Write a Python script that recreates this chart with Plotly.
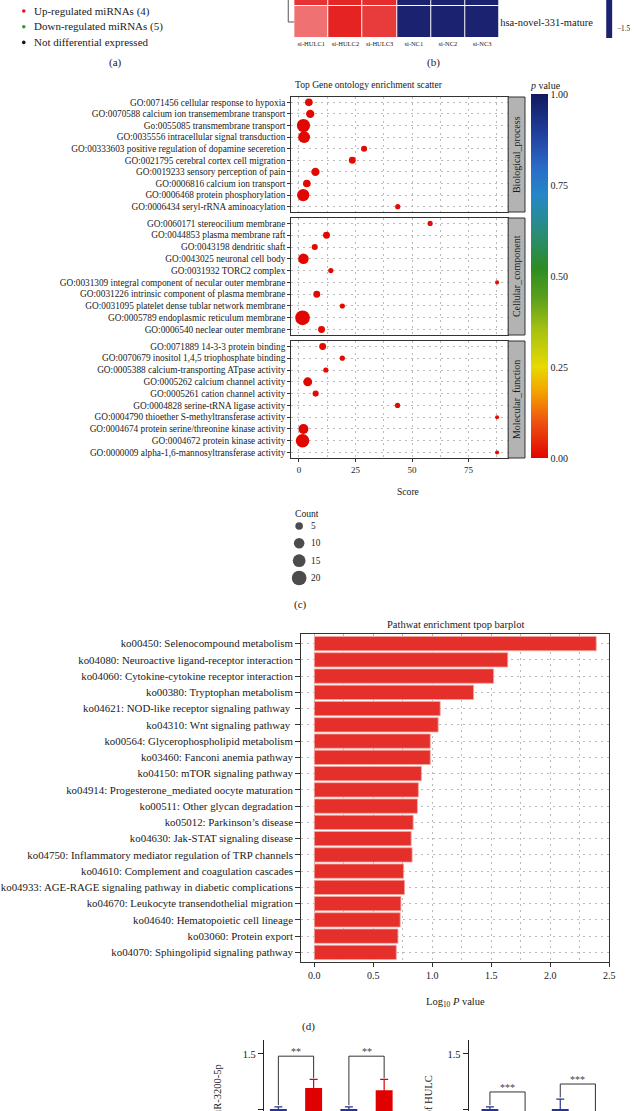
import numpy as np
import plotly.graph_objects as go

W, H = 635, 1111
FONT = "Liberation Serif"
TXT = "#1a1a1a"
LINE = "#333333"
GRID = "#a9a9a9"
DOT = "1.5px,4.5px"


def X(px):
    return px / W


def Y(py):
    return 1 - py / H


# ---------------- data ----------------
# (a) volcano legend
volcano_legend = ["Up-regulated miRNAs (4)", "Down-regulated miRNAs (5)", "Not differential expressed"]
volcano_colors = ["#E5161D", "#2E9B2E", "#141414"]

# (b) heatmap
heat_samples = ["si-HULC1", "si-HULC2", "si-HULC3", "si-NC1", "si-NC2", "si-NC3"]
heat_rows = ["hsa-novel-331-mature", "hsa-miR-3200-5p"]
heat_values = [[0.72, 1.45, 1.22, -1.5, -1.5, -1.5],
               [1.30, 1.42, 1.35, -1.5, -1.5, -1.5]]

# (c) GO enrichment scatter
bp_terms = ["GO:0071456 cellular response to hypoxia",
            "GO:0070588 calcium ion transemembrane transport",
            "Go:0055085 transmembrane transport",
            "GO:0035556 intracellular signal transduction",
            "GO:00333603 positive regulation of dopamine seceretion",
            "GO:0021795 cerebral cortex cell migration",
            "GO:0019233 sensory perception of pain",
            "GO:0006816 calcium ion transport",
            "GO:0006468 protein phosphorylation",
            "GO:0006434 seryl-rRNA aminoacylation"]
bp_score = [4.4, 5.0, 2.0, 2.3, 28.8, 23.6, 7.3, 3.5, 1.9, 43.7]
bp_count = [5, 6, 16, 13, 3, 4, 6, 5, 14, 2]
bp_p = [0.004, 0.003, 0.001, 0.002, 0.006, 0.005, 0.004, 0.003, 0.001, 0.008]

cc_terms = ["GO:0060171 stereocilium membrane",
            "GO:0044853 plasma membrane raft",
            "GO:0043198 dendritic shaft",
            "GO:0043025 neuronal cell body",
            "GO:0031932 TORC2 complex",
            "GO:0031309 integral component of necular outer membrane",
            "GO:0031226 intrinsic component of plasma membrane",
            "GO:0031095 platelet dense tublar network membrane",
            "GO:0005789 endoplasmic reticulum membrane",
            "GO:0006540 neclear outer membrane"]
cc_score = [58.0, 12.2, 7.0, 2.0, 14.1, 87.6, 7.9, 19.2, 1.6, 10.0]
cc_count = [2, 4, 3, 10, 2, 1, 4, 2, 20, 4]
cc_p = [0.009, 0.004, 0.004, 0.001, 0.006, 0.011, 0.003, 0.007, 0.001, 0.004]

mf_terms = ["GO:0071889 14-3-3 protein binding",
            "GO:0070679 inositol 1,4,5 triophosphate binding",
            "GO:0005388 calcium-transporting ATpase activity",
            "GO:0005262 calcium channel activity",
            "GO:0005261 cation channel activity",
            "GO:0004828 serine-tRNA ligase activity",
            "GO:0004790 thioether S-methyltransferase activity",
            "GO:0004674 protein serine/threonine kinase activity",
            "GO:0004672 protein kinase activity",
            "GO:0000009 alpha-1,6-mannosyltransferase activity"]
mf_score = [10.5, 19.2, 11.9, 3.9, 7.4, 43.6, 87.6, 2.0, 1.6, 87.6]
mf_count = [4, 2, 2, 7, 3, 2, 1, 9, 17, 1]
mf_p = [0.004, 0.006, 0.005, 0.002, 0.004, 0.008, 0.011, 0.001, 0.001, 0.011]

facet_names = ["Biological_process", "Cellular_component", "Molecular_function"]
count_breaks = [5, 10, 15, 20]
p_ticks = [0.0, 0.25, 0.5, 0.75, 1.0]

# (d) KEGG barplot
kegg_terms = ["ko00450: Selenocompound metabolism",
              "ko04080: Neuroactive ligand-receptor interaction",
              "ko04060: Cytokine-cytokine receptor interaction",
              "ko00380: Tryptophan metabolism",
              "ko04621: NOD-like receptor signaling pathway ",
              "ko04310: Wnt signaling pathway ",
              "ko00564: Glycerophospholipid metabolism",
              "ko03460: Fanconi anemia pathway",
              "ko04150: mTOR signaling pathway",
              "ko04914: Progesterone_mediated oocyte maturation",
              "ko00511: Other glycan degradation",
              "ko05012: Parkinson\u2019s disease",
              "ko04630: Jak-STAT signaling disease",
              "ko04750: Inflammatory mediator regulation of TRP channels",
              "ko04610: Complement and coagulation cascades",
              "ko04933: AGE-RAGE signaling pathway in diabetic complications",
              "ko04670: Leukocyte transendothelial migration",
              "ko04640: Hematopoietic cell lineage",
              "ko03060: Protein export",
              "ko04070: Sphingolipid signaling pathway"]
kegg_log10p = [2.39, 1.64, 1.52, 1.35, 1.067, 1.05, 0.983, 0.983, 0.908, 0.882,
               0.874, 0.838, 0.821, 0.829, 0.757, 0.765, 0.734, 0.728, 0.709, 0.695]

# (e) qPCR bars
mir_nc = [1.00, 1.00]
mir_nc_err = [0.02, 0.02]
mir_hulc = [1.19, 1.17]
mir_hulc_err = [0.08, 0.10]
mir_sig = ["**", "**"]
hulc_nc = [1.00, 1.00]
hulc_nc_err = [0.02, 0.09]
hulc_si = [0.38, 0.30]
hulc_si_err = [0.05, 0.05]
hulc_sig = ["***", "***"]

# ---------------- figure ----------------
P_SCALE = [[0.0, "#E10600"], [0.1, "#EE5212"], [0.18, "#F5A000"], [0.25, "#E8DA00"],
           [0.35, "#A8C210"], [0.44, "#5AA01C"], [0.52, "#2D8C22"], [0.62, "#2A8C7A"],
           [0.72, "#2488C6"], [0.8, "#2A6BC8"], [0.9, "#1E3C98"], [1.0, "#111A5E"]]
HEAT_SCALE = [[0.0, "#1B2370"], [0.5, "#FFFFFF"], [0.75, "#EF6B6B"], [1.0, "#E41E1E"]]


def dot_size(counts):
    return np.sqrt(6 + 10.5 * np.asarray(counts, dtype=float))


def font(size, color=TXT):
    return dict(family=FONT, size=size, color=color)


fig = go.Figure()
annotations = []
shapes = []
layout = {}


def ann(text, px, py, size=10, xanchor="center", yanchor="middle", **kw):
    d = dict(text=text, x=X(px), y=Y(py), xref="paper", yref="paper", showarrow=False,
             xanchor=xanchor, yanchor=yanchor, font=font(size))
    d.update(kw)
    return d


# (a) legend
for i, (lab, col) in enumerate(zip(volcano_legend, volcano_colors)):
    cy = 11 + i * 15.7
    shapes.append(dict(type="circle", xref="paper", yref="paper", x0=X(22.2), x1=X(25.8),
                       y0=Y(cy + 1.8), y1=Y(cy - 1.8), fillcolor=col, line=dict(width=0)))
    annotations.append(ann(lab, 32, cy, 11, xanchor="left"))
annotations.append(ann("(a)", 117, 63, 11))

# (b) heatmap
fig.add_trace(go.Heatmap(z=heat_values, x=list(range(len(heat_samples))), y=list(range(len(heat_rows))),
                         colorscale=HEAT_SCALE, zmin=-1.5, zmax=1.5, showscale=False, xgap=1, ygap=1,
                         xaxis="x", yaxis="y", hoverinfo="skip"))
layout["xaxis"] = dict(domain=[X(297), X(504)], anchor="y", range=[-0.5, 5.5],
                       tickvals=list(range(len(heat_samples))), ticktext=heat_samples,
                       tickfont=font(6.5), ticks="", showgrid=False, zeroline=False, showline=False)
layout["yaxis"] = dict(domain=[Y(38), 1], anchor="x", range=[-0.5, 0.6875], side="right",
                       tickvals=list(range(len(heat_rows))), ticktext=heat_rows,
                       tickfont=font(10.5), ticks="", showgrid=False, zeroline=False, showline=False)
# dendrogram stub
shapes.append(dict(type="line", xref="paper", yref="paper", x0=X(291), x1=X(297), y0=Y(22), y1=Y(22),
                   line=dict(color="#555", width=1)))
shapes.append(dict(type="line", xref="paper", yref="paper", x0=X(291), x1=X(291), y0=Y(22), y1=Y(-2),
                   line=dict(color="#555", width=1)))
# colour key (lower part visible)
shapes.append(dict(type="rect", xref="paper", yref="paper", x0=X(612), x1=X(618), y0=Y(38), y1=Y(-2),
                   fillcolor="#1B2370", line=dict(width=0)))
annotations.append(ann("\u22121.5", 620.5, 29, 7.2, xanchor="left"))
annotations.append(ann("(b)", 438, 63, 11))

# (c) GO scatter facets
facet_px = [(97, 212), (218, 335), (341, 458)]
facets = [(bp_terms, bp_score, bp_count, bp_p),
          (cc_terms, cc_score, cc_count, cc_p),
          (mf_terms, mf_score, mf_count, mf_p)]
for i, ((terms, score, count, pv), (top, bot)) in enumerate(zip(facets, facet_px)):
    n = i + 2
    last = i == 2
    fig.add_trace(go.Scatter(
        x=score, y=list(range(len(terms))), mode="markers",
        marker=dict(size=dot_size(count), color=pv, colorscale=P_SCALE, cmin=0, cmax=1,
                    line=dict(width=0), opacity=1, showscale=(i == 0),
                    colorbar=dict(x=X(536), xanchor="left", xpad=0, ypad=0,
                                  y=Y(78), yanchor="top",
                                  len=380, lenmode="pixels", thickness=17, thicknessmode="pixels",
                                  outlinewidth=0, tickvals=p_ticks, tickformat=".2f", ticks="",
                                  tickfont=font(10),
                                  title=dict(text="<i>p</i> value", side="top", font=font(10)))),
        xaxis=f"x{n}", yaxis=f"y{n}", showlegend=False, hoverinfo="skip"))
    layout[f"xaxis{n}"] = dict(
        domain=[X(294), X(513)], anchor=f"y{n}", range=[-3.4, 92.5], tick0=0, dtick=25,
        showgrid=True, gridcolor=GRID, griddash=DOT, gridwidth=0.8,
        minor=dict(tick0=0, dtick=12.5, showgrid=True, gridcolor=GRID, griddash=DOT, gridwidth=0.8),
        showline=True, mirror=True, linecolor=LINE, linewidth=1, zeroline=False,
        ticks="outside" if last else "", ticklen=3, tickcolor=LINE,
        showticklabels=last, tickfont=font(9))
    layout[f"yaxis{n}"] = dict(
        domain=[Y(bot), Y(top)], anchor=f"x{n}", range=[9.46, -0.46],
        tickvals=list(range(len(terms))), ticktext=terms, tickfont=font(9.3),
        ticks="outside", ticklen=3, tickcolor=LINE,
        showgrid=True, gridcolor=GRID, griddash=DOT, gridwidth=0.8,
        showline=True, mirror=True, linecolor=LINE, linewidth=1, zeroline=False)
    shapes.append(dict(type="rect", xref="paper", yref="paper", x0=X(513), x1=X(530),
                       y0=Y(bot), y1=Y(top), fillcolor="#B3B3B3", line=dict(color=LINE, width=1)))
    annotations.append(ann(facet_names[i], 521.5, (top + bot) / 2, 10, textangle=-90))

annotations.append(ann("Top Gene ontology enrichment scatter", 295.5, 85, 9.6, xanchor="left"))
annotations.append(ann("Score", 411.7, 492, 9.6))

# size legend
fig.add_trace(go.Scatter(x=[0] * len(count_breaks), y=list(range(len(count_breaks))), mode="markers",
                         marker=dict(size=dot_size(count_breaks), color="#000000", line=dict(width=0)),
                         xaxis="x5", yaxis="y5", showlegend=False, hoverinfo="skip"))
layout["xaxis5"] = dict(domain=[X(292), X(312)], anchor="y5", range=[-1, 1], visible=False)
layout["yaxis5"] = dict(domain=[Y(587), Y(517)], anchor="x5", range=[3.52, -0.52], visible=False)
annotations.append(ann("Count", 296, 513, 9.6, xanchor="left"))
for i, c in enumerate(count_breaks):
    annotations.append(ann(str(c), 312, 526 + i * 17.3, 9.3, xanchor="left"))
annotations.append(ann("(c)", 303, 604, 11))

# (d) KEGG barplot
fig.add_trace(go.Bar(x=kegg_log10p, y=list(range(len(kegg_terms))), orientation="h", width=0.88,
                     marker=dict(color="#E42F2A", line=dict(color="#F3A8A2", width=0.8)),
                     xaxis="x6", yaxis="y6", showlegend=False, hoverinfo="skip"))
layout["xaxis6"] = dict(
    domain=[X(304), X(615)], anchor="y6", range=[-0.112, 2.5001], tick0=0, dtick=0.5, tickformat=".1f",
    showgrid=True, gridcolor=GRID, griddash=DOT, gridwidth=0.8,
    minor=dict(tick0=0, dtick=0.25, showgrid=True, gridcolor=GRID, griddash=DOT, gridwidth=0.8),
    showline=True, mirror=True, linecolor=LINE, linewidth=1, zeroline=False,
    ticks="outside", ticklen=4, tickcolor=LINE, tickfont=font(10))
layout["yaxis6"] = dict(
    domain=[Y(962), Y(634)], anchor="x6", range=[19.59, -0.59],
    tickvals=list(range(len(kegg_terms))), ticktext=kegg_terms, tickfont=font(10.85),
    ticks="outside", ticklen=5, tickcolor=LINE,
    showgrid=True, gridcolor=GRID, griddash=DOT, gridwidth=0.8,
    showline=True, mirror=True, linecolor=LINE, linewidth=1, zeroline=False)
annotations.append(ann("Pathwat enrichment tpop barplot", 460, 624, 10.5))
annotations.append(ann("Log<sub>10</sub> <i>P</i> value", 460, 1002, 10.5))
annotations.append(ann("(d)", 311, 1026, 11))

# (e) qPCR bars
NAVY = "#28348F"
RED = "#E00000"
panels_e = [
    ("x7", "y7", 266.6, 412, -0.405, 35.6, mir_nc, mir_nc_err, mir_hulc, mir_hulc_err, mir_sig,
     [1.48, 1.48], "Relative expression of miR-3200-5p", 220, 1062),
    ("x8", "y8", 473.3, 625, -0.6, 35.5, hulc_nc, hulc_nc_err, hulc_si, hulc_si_err, hulc_sig,
     [1.155, 1.227], "Relative expression of HULC", 433, 1073),
]
for (xa, ya, left, right, r0, unit, nc, nce, kd, kde, sig, levels, ytitle, tx, ty) in panels_e:
    n = xa[1:]
    nc_x = [2 * k for k in range(len(nc))]
    kd_x = [2 * k + 1 for k in range(len(kd))]
    fig.add_trace(go.Bar(x=nc_x, y=nc, width=0.48, marker=dict(color=NAVY, line=dict(width=0)),
                         error_y=dict(type="data", array=nce, color=NAVY, thickness=1.2, width=4),
                         xaxis=xa, yaxis=ya, showlegend=False, hoverinfo="skip"))
    fig.add_trace(go.Bar(x=kd_x, y=kd, width=0.48, marker=dict(color=RED, line=dict(width=0)),
                         error_y=dict(type="data", array=kde, color=RED, thickness=1.2, width=4),
                         xaxis=xa, yaxis=ya, showlegend=False, hoverinfo="skip"))
    layout[f"xaxis{n}"] = dict(domain=[X(left), X(right)], anchor=ya,
                               range=[r0, r0 + (right - left) / unit], visible=False)
    layout[f"yaxis{n}"] = dict(domain=[0, Y(1040)], anchor=xa, range=[0.982, 1.627],
                               tickvals=[1.0, 1.5], ticktext=["1.0", "1.5"], tickfont=font(10.5),
                               ticks="outside", ticklen=5, tickcolor="#222", showline=True,
                               linecolor="#222", linewidth=1.2, showgrid=False, zeroline=False)
    for k in range(len(nc)):
        x0, x1 = nc_x[k], kd_x[k]
        lev = levels[k]
        leg0 = nc[k] + nce[k] + 0.015
        leg1 = kd[k] + kde[k] + 0.01
        shapes.append(dict(type="path", xref=xa, yref=ya,
                           path=f"M {x0},{leg0} L {x0},{lev} L {x1},{lev} L {x1},{leg1}",
                           line=dict(color="#333", width=1)))
        annotations.append(dict(text=sig[k], x=(x0 + x1) / 2, y=lev + 0.045, xref=xa, yref=ya,
                                showarrow=False, xanchor="center", yanchor="middle", font=font(10, "#444")))
    annotations.append(ann(ytitle, tx, ty, 10.5, yanchor="top", textangle=-90))

layout.update(dict(width=W, height=H, margin=dict(l=0, r=0, t=0, b=0, pad=0),
                   paper_bgcolor="white", plot_bgcolor="white", showlegend=False,
                   annotations=annotations, shapes=shapes, barmode="overlay",
                   font=font(10), hovermode=False))
fig.update_layout(**layout)
fig.write_html("out.html", config={"displayModeBar": False, "staticPlot": True},
               post_script="document.body.style.margin='0px';document.body.style.overflow='hidden';")
